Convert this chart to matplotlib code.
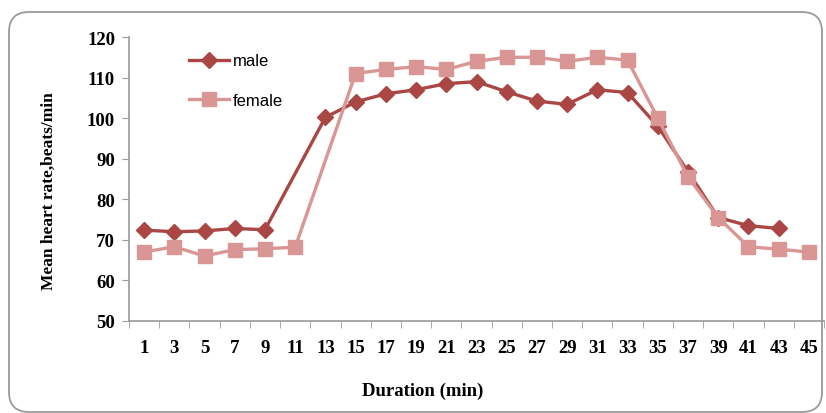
import numpy as np
import matplotlib
matplotlib.use("Agg")
import matplotlib.pyplot as plt
from matplotlib.patches import FancyBboxPatch

minutes = [1, 3, 5, 7, 9, 11, 13, 15, 17, 19, 21, 23, 25, 27, 29, 31, 33,
           35, 37, 39, 41, 43, 45]
male = [72.4, 72.0, 72.2, 72.8, 72.5, np.nan, 100.2, 104.0, 106.0, 107.0,
        108.5, 109.0, 106.5, 104.2, 103.4, 107.0, 106.3, 98.0, 86.8, 75.5,
        73.5, 72.8, np.nan]
female = [67.0, 68.3, 66.0, 67.6, 67.8, 68.2, np.nan, 111.0, 112.0, 112.7,
          112.0, 114.0, 115.0, 115.0, 114.0, 115.0, 114.3, 100.0, 85.5, 75.5,
          68.3, 67.7, 67.0]

MALE_C = "#AA4643"
FEMALE_C = "#D99694"
serif = ["Liberation Serif", "DejaVu Serif"]

fig = plt.figure(figsize=(8.26, 4.14), dpi=100)
ax = fig.add_axes([129 / 826, 92 / 414, 695 / 826, 284 / 414])

# chart area frame with rounded corners (pixel units)
frame = FancyBboxPatch((9 / 100, 1 / 100), 813 / 100, 400 / 100,
                       boxstyle="round,pad=0,rounding_size=0.2",
                       transform=fig.dpi_scale_trans, fill=False,
                       edgecolor="#9a9a9a", linewidth=1.3, zorder=0)
fig.patches.append(frame)

idx = np.arange(len(minutes))


def plot_series(vals, color, marker, ms, label):
    v = np.array(vals, dtype=float)
    ok = ~np.isnan(v)
    ax.plot(idx[ok], v[ok], color=color, marker=marker, markersize=ms,
            linewidth=2.4, label=label, clip_on=False)


plot_series(male, MALE_C, "D", 8.5, "male")
plot_series(female, FEMALE_C, "s", 10.5, "female")

ax.set_xlim(-0.5, len(minutes) - 0.5)
ax.set_ylim(50, 120)
ax.set_yticks(range(50, 121, 10))
ax.set_xticks(idx)
ax.set_xticklabels([str(m) for m in minutes])
ax.set_xticks(np.arange(-0.5, len(minutes), 1.0), minor=True)
ax.tick_params(axis="x", which="major", length=0, pad=13)
ax.tick_params(axis="x", which="minor", length=5, color="#9a9a9a")
ax.tick_params(axis="y", length=5, color="#9a9a9a", pad=5)

for lab in ax.get_xticklabels() + ax.get_yticklabels():
    lab.set_fontfamily(serif)
    lab.set_fontweight("bold")
    lab.set_fontsize(13.5)

for s in ["top", "right"]:
    ax.spines[s].set_visible(False)
for s in ["left", "bottom"]:
    ax.spines[s].set_color("#9a9a9a")
    ax.spines[s].set_linewidth(1.2)

ax.set_ylabel("Mean heart rate,beats/min", fontfamily=serif,
              fontweight="bold", fontsize=12.5)
ax.yaxis.set_label_coords(-0.104, 0.46)
ax.set_xlabel("Duration (min)", fontfamily=serif, fontweight="bold",
              fontsize=13.5)
ax.xaxis.set_label_coords(0.423, -0.215)

ax.legend(loc="upper left", bbox_to_anchor=(0.065, 0.995), frameon=False,
          prop={"family": "Liberation Sans", "size": 12},
          handlelength=2.4, handletextpad=0.2, labelspacing=1.45)

fig.savefig("out.png", dpi=100)
